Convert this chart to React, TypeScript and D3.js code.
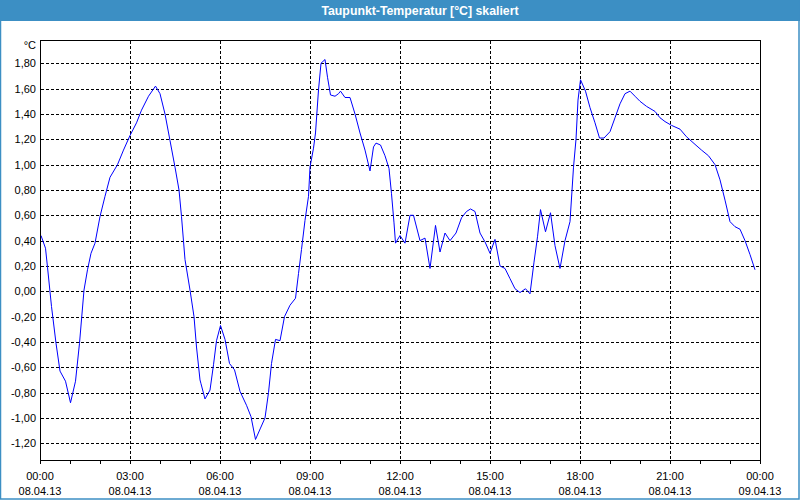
import React from "react";
import * as d3 from "d3";

// minutes after 08.04.13 00:00
const minutes = [
  2, 11, 15, 23, 32, 40, 51, 61, 71, 79, 88, 95, 102, 110, 120, 130, 140, 155, 167, 180,
  193, 203, 217, 231, 240, 250, 260, 270, 278, 283, 290, 300, 308, 313, 320, 322, 330, 340,
  347, 353, 361, 370, 379, 389, 400, 413, 422, 431, 441, 450, 457, 463, 471, 480, 489, 500,
  511, 517, 523, 530, 537, 540, 547, 551, 557, 562, 570, 575, 581, 590, 597, 601, 610, 620,
  630, 640, 650, 660, 667, 672, 681, 690, 698, 703, 708, 711, 720, 730, 740, 747, 760, 770,
  780, 791, 800, 810, 820, 832, 843, 853, 861, 870, 880, 890, 900, 910, 920, 930, 940, 950,
  960, 971, 980, 988, 995, 1001, 1011, 1021, 1030, 1040, 1050, 1060, 1067, 1072, 1076, 1081,
  1091, 1100, 1110, 1119, 1128, 1140, 1150, 1160, 1170, 1180, 1190, 1200, 1213, 1230, 1240,
  1250, 1263, 1280, 1293, 1310, 1323, 1337, 1350, 1360, 1370, 1380, 1390, 1400, 1410, 1420, 1430,
];
const values = [
  0.44, 0.34, 0.19, -0.12, -0.41, -0.63, -0.71, -0.88, -0.71, -0.41, 0.01, 0.17, 0.3, 0.38,
  0.59, 0.75, 0.9, 1.0, 1.115, 1.23, 1.33, 1.43, 1.54, 1.62, 1.56, 1.4, 1.19, 0.98, 0.8, 0.59,
  0.25, 0.01, -0.2, -0.44, -0.7, -0.73, -0.85, -0.78, -0.58, -0.39, -0.27, -0.38, -0.57, -0.62,
  -0.79, -0.9, -0.99, -1.17, -1.08, -1.0, -0.8, -0.57, -0.38, -0.39, -0.2, -0.11, -0.055, 0.14,
  0.33, 0.56, 0.75, 0.98, 1.13, 1.25, 1.59, 1.8, 1.83, 1.69, 1.55, 1.54, 1.56, 1.58, 1.53, 1.53,
  1.4, 1.25, 1.115, 0.95, 1.14, 1.17, 1.155, 1.07, 0.97, 0.77, 0.54, 0.38, 0.44, 0.38, 0.6, 0.6,
  0.4, 0.42, 0.18, 0.52, 0.31, 0.46, 0.4, 0.46, 0.58, 0.63, 0.65, 0.63, 0.46, 0.39, 0.3, 0.41,
  0.2, 0.18, 0.1, 0.02, -0.01, 0.02, -0.02, 0.23, 0.43, 0.645, 0.47, 0.62, 0.36, 0.18, 0.4, 0.55,
  0.98, 1.2, 1.51, 1.67, 1.58, 1.45, 1.33, 1.21, 1.21, 1.26, 1.37, 1.48, 1.56, 1.58, 1.54, 1.5,
  1.46, 1.42, 1.37, 1.34, 1.31, 1.28, 1.22, 1.16, 1.115, 1.07, 1.0, 0.88, 0.72, 0.55, 0.51,
  0.49, 0.4, 0.29, 0.17,
];
const yTicks = [-1.2, -1.0, -0.8, -0.6, -0.4, -0.2, 0, 0.2, 0.4, 0.6, 0.8, 1.0, 1.2, 1.4, 1.6, 1.8];
const xTickHours = [0, 3, 6, 9, 12, 15, 18, 21, 24];
const minorTickHours = d3.range(0, 25);
const title = "Taupunkt-Temperatur [°C] skaliert";
const unit = "°C";

const W = 800;
const H = 500;
const left = 40;
const right = 760;
const top = 40;
const bottom = 460;
const font = "'Liberation Sans', Arial, sans-serif";

const start = new Date(2013, 3, 8, 0, 0);
const end = new Date(2013, 3, 9, 0, 0);

export default function App() {
  const x = d3.scaleTime().domain([start, end]).range([left, right]);
  const y = d3.scaleLinear().domain([-1.332, 1.984]).range([bottom, top]);
  const data = minutes.map((m, i) => ({ t: d3.timeMinute.offset(start, m), v: values[i] }));
  const line = d3
    .line<{ t: Date; v: number }>()
    .x((d) => x(d.t))
    .y((d) => y(d.v));
  const fmtNum = (v: number) => d3.format(".2f")(v).replace(".", ",").replace("−", "-");
  const fmtTime = d3.timeFormat("%H:%M");
  const fmtDate = d3.timeFormat("%d.%m.%y");
  const px = (v: number) => Math.round(v) + 0.5;

  return (
    <svg
      width={W}
      height={H}
      style={{ position: "fixed", left: 0, top: 0, background: "#ffffff" }}
      fontFamily={font}
    >
      <rect x={0} y={0} width={W} height={H} fill="#ffffff" />
      <rect x={0} y={0} width={W} height={21} fill="#3c8fc4" />
      <rect x={0.5} y={0.5} width={W - 1.5} height={H - 1.5} fill="none" stroke="#3c8fc4" strokeWidth={1.5} />
      <text x={420} y={15} textAnchor="middle" fill="#ffffff" fontWeight="bold" fontSize={12.3}>
        {title}
      </text>

      {/* grid */}
      <g stroke="#000" strokeWidth={1} strokeDasharray="3,2" shapeRendering="crispEdges">
        {yTicks.map((v) => (
          <line key={"h" + v} x1={left + 1} x2={right} y1={px(y(v))} y2={px(y(v))} />
        ))}
        {xTickHours.slice(1, -1).map((h) => {
          const xx = px(x(d3.timeHour.offset(start, h)));
          return <line key={"v" + h} x1={xx} x2={xx} y1={top + 1} y2={bottom} />;
        })}
      </g>

      {/* data line */}
      <path d={line(data) || ""} fill="none" stroke="#0000ff" strokeWidth={1} />

      {/* frame */}
      <rect
        x={left + 0.5}
        y={top + 0.5}
        width={right - left}
        height={bottom - top}
        fill="none"
        stroke="#000"
        strokeWidth={1}
        shapeRendering="crispEdges"
      />

      {/* x ticks */}
      <g stroke="#000" shapeRendering="crispEdges">
        {minorTickHours.map((h) => {
          const xx = px(x(d3.timeHour.offset(start, h)));
          return <line key={"t" + h} x1={xx} x2={xx} y1={bottom} y2={bottom + 4} />;
        })}
      </g>
      <g fontSize={11} fill="#000" textAnchor="middle">
        {xTickHours.map((h) => {
          const d = d3.timeHour.offset(start, h);
          const xx = x(d);
          return (
            <g key={"xl" + h}>
              <text x={xx} y={479.5}>{fmtTime(d)}</text>
              <text x={xx} y={495}>{fmtDate(d)}</text>
            </g>
          );
        })}
      </g>

      {/* y labels */}
      <g fontSize={11} fill="#000" textAnchor="end">
        {yTicks.map((v) => (
          <text key={"yl" + v} x={36} y={y(v) + 4}>
            {fmtNum(v)}
          </text>
        ))}
        <text x={36} y={49}>{unit}</text>
      </g>
    </svg>
  );
}
